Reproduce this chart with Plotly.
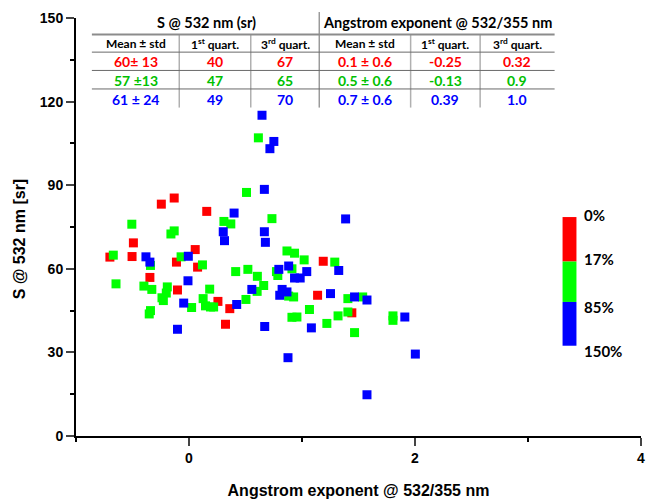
import plotly.graph_objects as go

# ---------------- data ----------------
red_x = [-0.70, -0.245, -0.131, 0.157, -0.492, -0.504, 0.055, -0.111, 0.076, -0.346,
         -0.102, 0.256, 0.361, 0.323, 1.188, 1.138, 1.441]
red_y = [64.2, 83.2, 85.4, 80.6, 69.3, 64.4, 66.9, 62.4, 60.6, 56.9,
         52.4, 48.3, 45.7, 40.1, 62.7, 50.5, 44.2]

green_x = [0.614, 0.509, 0.734, -0.506, 0.309, 0.370, -0.131, -0.160, -0.670, -0.341,
           -0.070, 0.119, 0.413, 0.521, 0.605, 0.661, 0.603, 0.774, 0.786, 0.867,
           0.934, -0.646, -0.399, -0.329, -0.192, -0.201, -0.239, -0.227, 0.183, 0.023,
           0.125, 0.146, 0.190, 0.218, 0.504, -0.341, -0.352, 0.882, 0.926, 0.911,
           0.955, 1.019, 1.290, 0.911, 1.406, 1.537, 1.066, 1.319, 1.406, 1.220,
           1.465, 1.805, 1.805]
green_y = [107.0, 87.4, 78.0, 76.0, 77.0, 76.1, 73.6, 72.5, 64.9, 61.2,
           64.3, 61.4, 59.0, 59.8, 57.3, 54.0, 51.9, 59.0, 57.6, 66.4,
           65.6, 54.6, 53.8, 52.6, 53.5, 51.3, 49.6, 48.6, 52.7, 46.1,
           49.3, 46.7, 46.3, 46.3, 49.0, 45.0, 43.8, 50.2, 49.9, 42.6,
           42.7, 63.2, 62.4, 60.0, 49.3, 49.9, 45.4, 43.1, 44.5, 40.4,
           37.1, 43.1, 41.5]

blue_x = [0.646, 0.751, 0.716, 0.667, 0.399, 0.303, 0.314, 0.667, 0.676, -0.381,
          -0.346, -0.006, 0.556, 0.795, 0.882, 0.934, -0.009, -0.047, 0.422, -0.102,
          0.670, 0.824, 0.803, 0.867, 1.386, 1.325, 1.042, 0.984, 1.252, 1.465,
          1.575, 1.083, 1.910, 0.876, 2.003, 1.575]
blue_y = [115.1, 105.7, 103.1, 88.5, 80.0, 73.3, 70.1, 73.3, 69.5, 64.3,
          62.4, 64.5, 52.6, 59.8, 61.0, 56.7, 55.7, 47.7, 47.2, 38.3,
          39.3, 52.6, 50.5, 51.7, 77.9, 59.4, 59.0, 56.7, 51.1, 49.9,
          48.8, 38.8, 42.7, 28.1, 29.4, 14.8]

x_ticks = [0, 2, 4]
y_ticks = [0, 30, 60, 90, 120, 150]

table_groups = ["S @ 532 nm (sr)", "Angstrom exponent @ 532/355 nm"]
table_cols = ["Mean ± std", "1<sup>st</sup> quart.", "3<sup>rd</sup> quart.",
              "Mean ± std", "1<sup>st</sup> quart.", "3<sup>rd</sup> quart."]
row_red = ["60± 13", "40", "67", "0.1 ± 0.6", "-0.25", "0.32"]
row_green = ["57 ±13", "47", "65", "0.5 ± 0.6", "-0.13", "0.9"]
row_blue = ["61 ± 24", "49", "70", "0.7 ± 0.6", "0.39", "1.0"]

scale_labels = ["0%", "17%", "85%", "150%"]

RED, GREEN, BLUE = "#FF0000", "#00FF00", "#0000FF"

# ---------------- layout geometry ----------------
W, H = 649, 501
L, R, T, B = 76, 4, 18, 63
PW, PH = W - L - R, H - T - B


def px(x):
    return (x - L) / PW


def py(y):
    return (H - B - y) / PH


fig = go.Figure()
for xs, ys, c in [(red_x, red_y, RED), (green_x, green_y, GREEN), (blue_x, blue_y, BLUE)]:
    fig.add_trace(go.Scatter(x=xs, y=ys, mode="markers",
                             marker=dict(symbol="square", size=9, color=c,
                                         line=dict(width=0)),
                             showlegend=False, cliponaxis=False))

shapes = []
annotations = []
TF = "Lato"

# table lines
col_edges = [92, 180, 252, 321, 413, 483, 558]
shapes.append(dict(type="line", xref="paper", yref="paper", x0=px(321), x1=px(321),
                   y0=py(12), y1=py(108), line=dict(color="#9a9a9a", width=1.5)))
for xe in [180, 252, 413, 483]:
    shapes.append(dict(type="line", xref="paper", yref="paper", x0=px(xe), x1=px(xe),
                       y0=py(35), y1=py(108), line=dict(color="#b0b0b0", width=1.5)))
shapes.append(dict(type="line", xref="paper", yref="paper", x0=px(92), x1=px(558),
                   y0=py(34.5), y1=py(34.5), line=dict(color="#8c8c8c", width=2)))
for yl in [52.3, 70.7, 89.3]:
    shapes.append(dict(type="line", xref="paper", yref="paper", x0=px(92), x1=px(558),
                       y0=py(yl), y1=py(yl), line=dict(color="#6a6a6a", width=1)))

# table text
annotations.append(dict(text=table_groups[0], x=px(207), y=py(23), xref="paper", yref="paper",
                        showarrow=False, xanchor="center", yanchor="middle",
                        font=dict(family=TF, size=14.5, color="black", weight="bold")))
annotations.append(dict(text=table_groups[1], x=px(440), y=py(23), xref="paper", yref="paper",
                        showarrow=False, xanchor="center", yanchor="middle",
                        font=dict(family=TF, size=14.5, color="black", weight="bold")))
centers = [(col_edges[i] + col_edges[i + 1]) / 2 for i in range(6)]
for cx, t in zip(centers, table_cols):
    annotations.append(dict(text=t, x=px(cx), y=py(44), xref="paper", yref="paper",
                            showarrow=False, xanchor="center", yanchor="middle",
                            font=dict(family=TF, size=12, color="black", weight="bold")))
for row, c, yy in [(row_red, RED, 61.7), (row_green, "#00C000", 80.7), (row_blue, BLUE, 100)]:
    for cx, t in zip(centers, row):
        annotations.append(dict(text=t, x=px(cx), y=py(yy), xref="paper", yref="paper",
                                showarrow=False, xanchor="center", yanchor="middle",
                                font=dict(family=TF, size=14, color=c, weight="bold")))

# colour scale legend
for (y0, y1, c) in [(218, 262.7, RED), (262.7, 303.3, GREEN), (303.3, 347.3, BLUE)]:
    shapes.append(dict(type="rect", xref="paper", yref="paper", x0=px(566), x1=px(580),
                       y0=py(y1), y1=py(y0), fillcolor=c, line=dict(width=0)))
for t, yy in zip(scale_labels, [216, 260, 308, 353]):
    annotations.append(dict(text=t, x=px(586), y=py(yy), xref="paper", yref="paper",
                            showarrow=False, xanchor="left", yanchor="middle",
                            font=dict(family=TF, size=15, color="black", weight="bold")))

# y axis title
annotations.append(dict(text="S @ 532 nm [sr]", x=px(20), y=py(240), xref="paper", yref="paper",
                        showarrow=False, xanchor="center", yanchor="middle", textangle=-90,
                        font=dict(family="Liberation Sans", size=16, color="black",
                                  weight="bold")))

axis_font = dict(family="Liberation Sans", size=14, color="black", weight="bold")
fig.update_layout(
    width=W, height=H, margin=dict(l=L, r=R, t=T, b=B),
    paper_bgcolor="white", plot_bgcolor="white",
    shapes=shapes, annotations=annotations,
    xaxis=dict(range=[-1, 4], tickvals=x_ticks, ticks="outside", ticklen=8, tickwidth=1.5,
               showline=True, linecolor="black", linewidth=2, showgrid=False, zeroline=False,
               tickfont=axis_font, ticklabeloverflow="allow",
               minor=dict(dtick=1, tick0=0, ticks="outside", ticklen=4, tickwidth=1.5,
                          tickcolor="black", showgrid=False),
               title=dict(text="Angstrom exponent @ 532/355 nm", standoff=20,
                          font=dict(family="Liberation Sans", size=16, color="black",
                                    weight="bold"))),
    yaxis=dict(range=[0, 150], tickvals=y_ticks, ticks="outside", ticklen=8, tickwidth=1.5,
               showline=True, linecolor="black", linewidth=2, showgrid=False, zeroline=False,
               tickfont=axis_font,
               minor=dict(dtick=15, tick0=0, ticks="outside", ticklen=4, tickwidth=1.5,
                          tickcolor="black", showgrid=False)),
)

fig.write_html("out.html")
